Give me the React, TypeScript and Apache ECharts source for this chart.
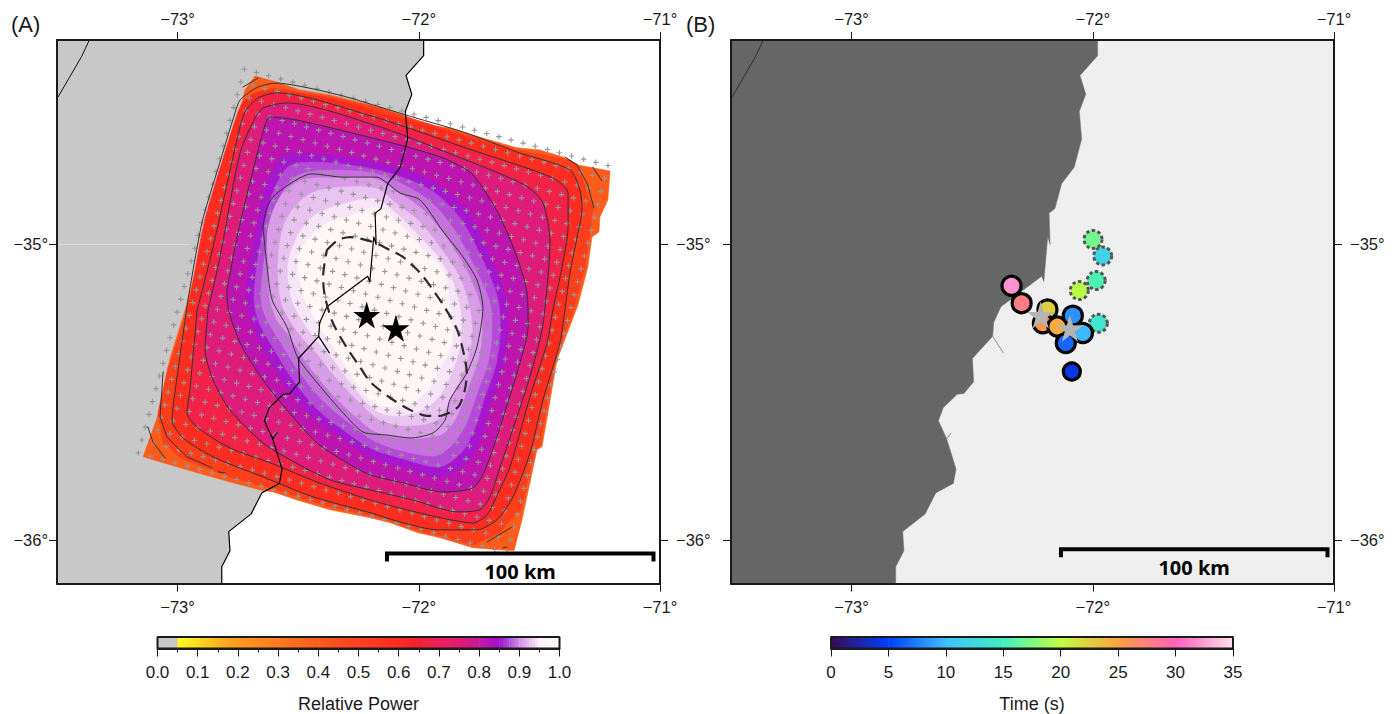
import React, { useEffect, useRef } from "react";
import * as echarts from "echarts";

type Pt = [number, number];

const FONT = "'Liberation Sans', Arial, sans-serif";
const LON_MIN = -73.5, LON_MAX = -71, LAT_MIN = -36.148, LAT_MAX = -34.308;
const lonTicks = [-73, -72, -71];
const latTicks = [-36, -35];

const coast: Pt[] = [[-71.980,-34.308],[-71.980,-34.361],[-72.053,-34.428],[-72.029,-34.492],[-72.056,-34.550],[-72.046,-34.643],[-72.077,-34.739],[-72.129,-34.794],[-72.157,-34.879],[-72.181,-34.894],[-72.177,-35.000],[-72.187,-34.975],[-72.203,-35.126],[-72.212,-35.108],[-72.381,-35.211],[-72.411,-35.265],[-72.415,-35.311],[-72.371,-35.367],[-72.415,-35.311],[-72.499,-35.386],[-72.494,-35.465],[-72.535,-35.505],[-72.562,-35.507],[-72.620,-35.553],[-72.640,-35.597],[-72.606,-35.658],[-72.588,-35.638],[-72.606,-35.658],[-72.567,-35.760],[-72.578,-35.809],[-72.651,-35.841],[-72.695,-35.912],[-72.788,-35.972],[-72.783,-36.037],[-72.817,-36.091],[-72.817,-36.148]];
const landCorners: Pt[] = [[LON_MIN, LAT_MIN],[LON_MIN, LAT_MAX]];
const inlandLine: Pt[] = [[-73.366,-34.308],[-73.398,-34.364],[-73.495,-34.500]];

// Filled power bands, outermost first
const band0: Pt[] = [[-72.721,-34.477],[-72.679,-34.430],[-72.588,-34.450],[-72.493,-34.477],[-72.368,-34.494],[-72.231,-34.521],[-72.161,-34.535],[-72.066,-34.562],[-71.966,-34.596],[-71.871,-34.606],[-71.734,-34.640],[-71.593,-34.673],[-71.498,-34.680],[-71.402,-34.704],[-71.340,-34.731],[-71.207,-34.751],[-71.216,-34.849],[-71.249,-34.907],[-71.253,-34.958],[-71.282,-34.975],[-71.299,-35.076],[-71.340,-35.205],[-71.427,-35.391],[-71.489,-35.685],[-71.510,-35.695],[-71.572,-35.932],[-71.605,-36.037],[-71.775,-36.027],[-71.912,-35.993],[-72.003,-35.976],[-72.119,-35.942],[-72.202,-35.925],[-72.368,-35.898],[-72.505,-35.865],[-72.604,-35.838],[-72.658,-35.831],[-72.783,-35.804],[-72.919,-35.773],[-73.060,-35.739],[-73.143,-35.719],[-73.085,-35.587],[-73.031,-35.384],[-72.969,-35.222],[-72.899,-35.008],[-72.874,-34.917],[-72.816,-34.748],[-72.774,-34.613],[-72.754,-34.589]];
const band1: Pt[] = [[-72.750,-34.569],[-72.700,-34.494],[-72.604,-34.470],[-72.505,-34.484],[-72.368,-34.501],[-72.161,-34.541],[-71.871,-34.613],[-71.593,-34.680],[-71.373,-34.714],[-71.340,-34.731],[-71.303,-34.826],[-71.278,-34.873],[-71.290,-34.961],[-71.311,-35.076],[-71.352,-35.205],[-71.435,-35.391],[-71.498,-35.685],[-71.518,-35.695],[-71.580,-35.905],[-71.609,-35.922],[-71.663,-35.976],[-71.775,-36.017],[-71.912,-35.986],[-72.003,-35.969],[-72.119,-35.935],[-72.202,-35.918],[-72.368,-35.888],[-72.505,-35.854],[-72.604,-35.827],[-72.783,-35.787],[-72.990,-35.722],[-73.060,-35.672],[-73.081,-35.570],[-73.039,-35.414],[-73.023,-35.384],[-72.961,-35.222],[-72.890,-35.008],[-72.866,-34.917],[-72.808,-34.748],[-72.766,-34.613]];
const band2: Pt[] = [[-72.949,-35.188],[-72.890,-34.927],[-72.820,-34.731],[-72.754,-34.562],[-72.729,-34.518],[-72.666,-34.484],[-72.588,-34.481],[-72.459,-34.494],[-72.298,-34.521],[-72.161,-34.555],[-72.024,-34.585],[-71.817,-34.633],[-71.593,-34.690],[-71.373,-34.755],[-71.332,-34.816],[-71.323,-34.883],[-71.340,-34.961],[-71.373,-35.096],[-71.394,-35.222],[-71.415,-35.333],[-71.485,-35.526],[-71.539,-35.706],[-71.609,-35.854],[-71.676,-35.932],[-71.759,-35.966],[-71.924,-35.966],[-72.066,-35.942],[-72.202,-35.908],[-72.439,-35.854],[-72.646,-35.787],[-72.853,-35.719],[-72.978,-35.655],[-73.023,-35.594],[-73.002,-35.448]];
const band7: Pt[] = [[-72.712,-35.188],[-72.700,-35.069],[-72.666,-34.917],[-72.625,-34.782],[-72.555,-34.697],[-72.368,-34.697],[-72.161,-34.724],[-71.995,-34.765],[-71.891,-34.816],[-71.788,-34.900],[-71.697,-35.052],[-71.638,-35.188],[-71.634,-35.299],[-71.651,-35.414],[-71.697,-35.526],[-71.734,-35.638],[-71.788,-35.729],[-71.900,-35.787],[-72.066,-35.753],[-72.202,-35.719],[-72.298,-35.668],[-72.439,-35.584],[-72.547,-35.482],[-72.617,-35.391],[-72.687,-35.279]];
const band8: Pt[] = [[-72.683,-35.188],[-72.671,-35.069],[-72.638,-34.924],[-72.596,-34.806],[-72.530,-34.731],[-72.368,-34.724],[-72.169,-34.748],[-72.016,-34.789],[-71.912,-34.839],[-71.817,-34.924],[-71.726,-35.069],[-71.671,-35.188],[-71.663,-35.299],[-71.680,-35.408],[-71.726,-35.516],[-71.767,-35.621],[-71.821,-35.702],[-71.912,-35.753],[-72.066,-35.726],[-72.194,-35.692],[-72.285,-35.645],[-72.418,-35.560],[-72.522,-35.459],[-72.592,-35.367],[-72.662,-35.266]];
const band9: Pt[] = [[-72.654,-35.188],[-72.642,-35.059],[-72.613,-34.934],[-72.567,-34.826],[-72.501,-34.765],[-72.360,-34.748],[-72.177,-34.761],[-72.036,-34.809],[-71.937,-34.866],[-71.846,-34.958],[-71.763,-35.086],[-71.705,-35.198],[-71.697,-35.299],[-71.713,-35.401],[-71.759,-35.506],[-71.804,-35.608],[-71.862,-35.679],[-71.933,-35.716],[-72.066,-35.699],[-72.186,-35.665],[-72.273,-35.614],[-72.393,-35.533],[-72.497,-35.431],[-72.567,-35.340],[-72.633,-35.249]];
const band10: Pt[] = [[-72.617,-35.188],[-72.625,-35.059],[-72.625,-34.944],[-72.575,-34.839],[-72.484,-34.782],[-72.327,-34.775],[-72.182,-34.778],[-72.066,-34.833],[-71.974,-34.890],[-71.879,-34.985],[-71.796,-35.096],[-71.742,-35.215],[-71.738,-35.306],[-71.754,-35.391],[-71.796,-35.486],[-71.850,-35.594],[-71.912,-35.645],[-72.066,-35.655],[-72.177,-35.635],[-72.256,-35.587],[-72.360,-35.506],[-72.459,-35.408],[-72.534,-35.313],[-72.588,-35.256]];
const band11: Pt[] = [[-72.567,-35.205],[-72.584,-35.069],[-72.563,-34.944],[-72.501,-34.860],[-72.410,-34.816],[-72.182,-34.809],[-72.086,-34.866],[-71.995,-34.924],[-71.904,-35.019],[-71.829,-35.113],[-71.788,-35.222],[-71.779,-35.306],[-71.804,-35.408],[-71.862,-35.509],[-71.924,-35.594],[-72.057,-35.614],[-72.161,-35.594],[-72.244,-35.536],[-72.335,-35.459],[-72.418,-35.374],[-72.493,-35.306]];
const band12: Pt[] = [[-72.526,-35.188],[-72.542,-35.069],[-72.501,-34.968],[-72.430,-34.900],[-72.327,-34.866],[-72.182,-34.846],[-72.086,-34.900],[-72.003,-34.968],[-71.912,-35.052],[-71.854,-35.137],[-71.825,-35.239],[-71.829,-35.340],[-71.862,-35.431],[-71.920,-35.519],[-72.003,-35.567],[-72.098,-35.580],[-72.182,-35.560],[-72.277,-35.475],[-72.360,-35.384],[-72.443,-35.306]];
const band13: Pt[] = [[-72.501,-35.042],[-72.451,-34.975],[-72.381,-34.927],[-72.298,-34.907],[-72.173,-34.876],[-72.066,-34.941],[-71.995,-35.008],[-71.900,-35.086],[-71.871,-35.215],[-71.862,-35.333],[-71.900,-35.401],[-71.954,-35.482],[-72.024,-35.536],[-72.119,-35.550],[-72.202,-35.526],[-72.285,-35.435],[-72.368,-35.333],[-72.472,-35.188]];

// Contour lines
const contour1: Pt[] = [[-72.795,-35.154],[-72.750,-34.961],[-72.646,-34.620],[-72.617,-34.569],[-72.505,-34.579],[-72.161,-34.646],[-72.049,-34.670],[-71.900,-34.707],[-71.788,-34.755],[-71.734,-34.809],[-71.663,-34.907],[-71.593,-35.043],[-71.551,-35.164],[-71.547,-35.279],[-71.593,-35.435],[-71.663,-35.618],[-71.725,-35.763],[-71.775,-35.824],[-71.900,-35.838],[-72.066,-35.807],[-72.202,-35.780],[-72.298,-35.739],[-72.422,-35.672],[-72.547,-35.560],[-72.646,-35.459],[-72.741,-35.333],[-72.795,-35.188],[-72.795,-35.154]];
const contour2: Pt[] = [[-72.874,-35.222],[-72.824,-35.042],[-72.741,-34.690],[-72.679,-34.572],[-72.646,-34.538],[-72.547,-34.521],[-72.161,-34.602],[-71.858,-34.697],[-71.560,-34.799],[-71.485,-34.860],[-71.456,-34.995],[-71.468,-35.144],[-71.489,-35.289],[-71.539,-35.448],[-71.593,-35.584],[-71.663,-35.753],[-71.705,-35.854],[-71.746,-35.898],[-71.841,-35.905],[-72.024,-35.865],[-72.202,-35.831],[-72.368,-35.797],[-72.534,-35.729],[-72.646,-35.672],[-72.783,-35.560],[-72.853,-35.459],[-72.886,-35.357],[-72.874,-35.222]];
const contour3: Pt[] = [[-72.919,-35.222],[-72.853,-35.008],[-72.754,-34.646],[-72.721,-34.552],[-72.666,-34.504],[-72.588,-34.487],[-72.182,-34.569],[-71.817,-34.670],[-71.444,-34.775],[-71.381,-34.826],[-71.381,-34.941],[-71.406,-35.076],[-71.444,-35.222],[-71.468,-35.333],[-71.539,-35.516],[-71.622,-35.753],[-71.671,-35.841],[-71.717,-35.915],[-71.775,-35.943],[-71.912,-35.925],[-72.066,-35.895],[-72.202,-35.865],[-72.422,-35.804],[-72.617,-35.739],[-72.783,-35.689],[-72.915,-35.621],[-72.961,-35.570],[-72.949,-35.492],[-72.919,-35.222]];
const contour4: Pt[] = [[-72.957,-35.188],[-72.899,-34.927],[-72.828,-34.731],[-72.762,-34.555],[-72.741,-34.511],[-72.666,-34.467],[-72.588,-34.454],[-72.459,-34.470],[-72.298,-34.501],[-72.161,-34.535],[-72.024,-34.569],[-71.817,-34.619],[-71.593,-34.687],[-71.373,-34.748],[-71.332,-34.816],[-71.323,-34.883],[-71.340,-34.961],[-71.373,-35.096],[-71.394,-35.222],[-71.415,-35.333],[-71.485,-35.526],[-71.539,-35.706],[-71.609,-35.854],[-71.676,-35.932],[-71.759,-35.966],[-71.924,-35.966],[-72.066,-35.942],[-72.202,-35.908],[-72.439,-35.854],[-72.646,-35.787],[-72.853,-35.719],[-72.978,-35.655],[-73.023,-35.594],[-73.002,-35.448],[-72.957,-35.188]];
const innerContour: Pt[] = [[-72.646,-34.941],[-72.629,-34.873],[-72.588,-34.826],[-72.443,-34.761],[-72.314,-34.772],[-72.173,-34.772],[-72.132,-34.792],[-72.078,-34.826],[-71.995,-34.849],[-71.904,-34.951],[-71.817,-35.042],[-71.759,-35.120],[-71.734,-35.215],[-71.759,-35.347],[-71.801,-35.435],[-71.871,-35.526],[-71.891,-35.594],[-71.941,-35.638],[-72.036,-35.655],[-72.132,-35.645],[-72.231,-35.635],[-72.314,-35.570],[-72.397,-35.492],[-72.501,-35.384],[-72.547,-35.279],[-72.608,-35.188],[-72.629,-35.076],[-72.646,-34.941]];
const fragments: Pt[][] = [
  [[-73.060,-35.431],[-73.073,-35.584],[-73.044,-35.652],[-72.961,-35.719],[-72.857,-35.756]],
  [[-72.832,-35.770],[-72.803,-35.773]],
  [[-73.123,-35.618],[-73.102,-35.669],[-73.052,-35.723]],
  [[-72.729,-34.467],[-72.666,-34.437]],
  [[-71.278,-34.738],[-71.241,-34.785]],
  [[-71.394,-34.704],[-71.344,-34.731],[-71.299,-34.799],[-71.274,-34.877]],
  [[-71.613,-35.956],[-71.717,-36.007]],
  [[-71.634,-36.024],[-71.651,-36.027]],
];
const halfPowerEllipse: Pt[] = [[-72.381,-35.019],[-72.335,-34.985],[-72.285,-34.975],[-72.190,-34.992],[-72.119,-35.019],[-72.066,-35.042],[-71.995,-35.096],[-71.941,-35.154],[-71.891,-35.215],[-71.841,-35.289],[-71.817,-35.357],[-71.801,-35.435],[-71.809,-35.492],[-71.837,-35.550],[-71.912,-35.580],[-71.966,-35.580],[-72.036,-35.560],[-72.119,-35.519],[-72.202,-35.465],[-72.244,-35.415],[-72.298,-35.350],[-72.356,-35.266],[-72.389,-35.178],[-72.397,-35.110],[-72.381,-35.019]];

// The four corners of the regular beam-forming grid, and its node count per side
const gridNW: Pt = [-72.7235, -34.407];
const gridNE: Pt = [-71.2156, -34.733];
const gridSW: Pt = [-73.163, -35.705];
const gridSE: Pt = [-71.634, -36.044];
const gridNodesPerSide = 31;

const epicenters: Pt[] = [[-72.216,-35.239],[-72.095,-35.284]];

// [lon, lat, time in s]
const solidEvents: number[][] = [[-72.295,-35.199,27.7],[-72.337,-35.140,32],[-72.188,-35.220,22.5],[-72.207,-35.267,25.5],[-72.147,-35.278,24.5],[-72.041,-35.300,9.7],[-72.083,-35.241,8.2],[-72.112,-35.334,6.5]];
const lastEvent: number[][] = [[-72.087,-35.430,4.2]];
const dashedEvents: number[][] = [[-71.959,-35.039,12],[-71.999,-34.983,17],[-71.986,-35.122,15.5],[-72.056,-35.156,19.7],[-71.977,-35.267,14]];

const powerBreaks = [0,0.05,0.05,0.1,0.15,0.2,0.3,0.4,0.5,0.6,0.65,0.7,0.75,0.8,0.85,0.875,0.9,0.925,0.95,1];
const powerColors = ["#c8c8c8","#c8c8c8","#ffff20","#ffda20","#ffb420","#ff9a20","#ff7a20","#ff5a20","#ff4020","#ff2a20","#f42030","#e82060","#e01c70","#c818a0","#a010d0","#b050d8","#d090e8","#e8c0f0","#fdf0f8","#fff8f8"];
const timeBreaks = [0,5,10,15,20,25,30,35];
const timeColors = ["#3a0a50","#0040ff","#40c0ff","#40f0c0","#c0ff40","#ffa040","#ff60c0","#ffe0e8"];

const CROSS = "path://M2.4,0h1.2v2.4h2.4v1.2h-2.4v2.4h-1.2v-2.4h-2.4v-1.2h2.4z";
const STAR = "path://M50,0L61,35L98,35L68,57L79,91L50,70L21,91L32,57L2,35L39,35z";
const SMOOTH = 0.25;

function latticeNodes(): Pt[] {
  const out: Pt[] = [];
  const n = gridNodesPerSide - 1;
  for (let r = 0; r <= n; r++) {
    const v = r / n;
    const a: Pt = [gridNW[0] + (gridSW[0] - gridNW[0]) * v, gridNW[1] + (gridSW[1] - gridNW[1]) * v];
    const b: Pt = [gridNE[0] + (gridSE[0] - gridNE[0]) * v, gridNE[1] + (gridSE[1] - gridNE[1]) * v];
    for (let c = 0; c <= n; c++) {
      const u = c / n;
      out.push([a[0] + (b[0] - a[0]) * u, a[1] + (b[1] - a[1]) * u]);
    }
  }
  return out;
}

function poly(pts: Pt[], fill: string, panel: number, smooth = 0, stroke?: string) {
  return {
    type: "custom", coordinateSystem: "cartesian2d", xAxisIndex: panel * 2, yAxisIndex: panel * 2,
    silent: true, clip: true, data: pts,
    renderItem: (p: any, api: any) => p.dataIndex !== 0 ? null : ({
      type: "polygon",
      shape: { points: pts.map((q) => api.coord(q)), smooth },
      style: { fill, stroke: stroke || fill, lineWidth: 0.5 },
    }),
  };
}
function line(pts: Pt[], panel: number, color: string, width: number, extra: any = {}, smooth: number = 0) {
  return {
    type: "line", xAxisIndex: panel * 2, yAxisIndex: panel * 2, data: pts, showSymbol: false, symbol: "none",
    silent: true, animation: false, smooth, lineStyle: { color, width, cap: "round", join: "round", ...extra }, clip: true,
  };
}
function axesFor(panel: number) {
  const deg = (v: number) => "\u2212" + Math.abs(v) + "\u00b0";
  const x = (position: string, margin: number) => ({
    type: "value", gridIndex: panel, position, min: LON_MIN, max: LON_MAX, z: 20,
    axisLine: { onZero: false, lineStyle: { color: "#1a1a1a", width: 2 } },
    axisTick: { customValues: lonTicks, length: 8, lineStyle: { color: "#1a1a1a", width: 1 } },
    axisLabel: { customValues: lonTicks, formatter: deg, fontFamily: FONT, fontSize: 16.5, color: "#1a1a1a", margin },
    splitLine: { show: false },
  });
  // Panel B has no left-hand labels of its own: the gap between the maps holds one label per latitude
  const y = (position: string, margin: number, show: boolean) => ({
    type: "value", gridIndex: panel, position, min: LAT_MIN, max: LAT_MAX, z: 20,
    axisLine: { onZero: false, lineStyle: { color: "#1a1a1a", width: 2 } },
    axisTick: { customValues: latTicks, length: 8, lineStyle: { color: "#1a1a1a", width: 1 } },
    axisLabel: { show, customValues: latTicks, formatter: deg, fontFamily: FONT, fontSize: 16.5, color: "#1a1a1a", margin },
    splitLine: { show: false },
  });
  return { x: [x("bottom", 15), x("top", 13)], y: [y("left", 9, panel === 0), y("right", 16, true)] };
}
function colorbarAxis(grid: number, max: number, interval: number, name: string, digits: number, minor: boolean) {
  return {
    type: "value", gridIndex: grid, position: "bottom", min: 0, max, interval, name,
    nameLocation: "middle", nameGap: 46, z: 20,
    nameTextStyle: { fontFamily: FONT, fontSize: 18, color: "#1a1a1a" },
    axisLine: { onZero: false, lineStyle: { color: "#1a1a1a", width: 2 } },
    axisTick: { length: 8, lineStyle: { color: "#1a1a1a", width: 1 } },
    minorTick: { show: minor, splitNumber: 2, length: 4, lineStyle: { color: "#1a1a1a", width: 1 } },
    axisLabel: { formatter: (v: number) => v.toFixed(digits), fontFamily: FONT, fontSize: 17, color: "#1a1a1a", margin: 15, showMinLabel: true, showMaxLabel: true },
    splitLine: { show: false },
  };
}
function colorbar(axisIndex: number, breaks: number[], colors: string[], max: number) {
  const segs = breaks.slice(0, -1).map((b, i) => [b, breaks[i + 1], i]);
  return [
    {
      type: "custom", coordinateSystem: "cartesian2d", xAxisIndex: axisIndex, yAxisIndex: axisIndex, silent: true, data: segs,
      encode: { x: [0, 1] },
      renderItem: (_: any, api: any) => {
        const i = api.value(2);
        const a = api.coord([api.value(0), 0]);
        const b = api.coord([api.value(1), 1]);
        return {
          type: "rect", shape: { x: a[0], y: b[1], width: Math.max(b[0] - a[0] + 0.4, 0), height: a[1] - b[1] },
          style: { fill: new (echarts as any).graphic.LinearGradient(0, 0, 1, 0, [{ offset: 0, color: colors[i] }, { offset: 1, color: colors[i + 1] }]) },
        };
      },
    },
    {
      type: "line", xAxisIndex: axisIndex, yAxisIndex: axisIndex, silent: true, showSymbol: false, symbol: "none", clip: false,
      data: [[0, 0], [max, 0], [max, 1], [0, 1], [0, 0]],
      lineStyle: { color: "#1a1a1a", width: 2 }, z: 5,
    },
  ];
}
function scaleBar(panel: number, barLat: number, endLat: number, textLat: number) {
  return [
    line([[-72.132, endLat], [-72.132, barLat], [-71.027, barLat], [-71.027, endLat]], panel, "#000", 4, { cap: "butt", join: "miter" }),
    {
      type: "scatter", xAxisIndex: panel * 2, yAxisIndex: panel * 2, symbolSize: 1, silent: true, data: [[-71.580, textLat]],
      itemStyle: { opacity: 0 }, z: 12,
      label: { show: true, position: "inside", formatter: "100 km", fontFamily: "'Noto Sans', sans-serif", fontWeight: 700, fontSize: 20, color: "#000", opacity: 1 },
    },
  ];
}

const App = () => {
  const ref = useRef<HTMLDivElement>(null);
  useEffect(() => {
    document.body.style.margin = "0";
    const chart = echarts.init(ref.current!, undefined, { renderer: "svg" });
    const a = axesFor(0), b = axesFor(1);
    const land: Pt[] = [...coast, ...landCorners];
    const seriesA: any[] = [
      poly(land, "#c8c8c8", 0),
      line([[LON_MIN, -35], [-72.95, -35]], 0, "#dcdcdc", 1),
      poly(band0, "#ff5c1c", 0),
      poly(band1, "#ff3e1c", 0),
      poly(band2, "#ff2c20", 0, SMOOTH),
      poly(contour3, "#f22248", 0, SMOOTH),
      poly(contour2, "#de1c7c", 0, SMOOTH),
      poly(contour1, "#bd14b0", 0, SMOOTH),
      poly(band7, "#a616cf", 0, 0.3),
      poly(band8, "#b44ad6", 0, 0.3),
      poly(band9, "#c572de", 0, 0.3),
      poly(band10, "#d99ce6", 0, 0.3),
      poly(band11, "#e9c4f0", 0, 0.3),
      poly(band12, "#f7e6f7", 0, 0.3),
      poly(band13, "#fff6f5", 0, 0.3),
      {
        type: "scatter", xAxisIndex: 0, yAxisIndex: 0, symbol: CROSS, symbolSize: 5.5, silent: true,
        data: latticeNodes(), itemStyle: { color: "#969696", opacity: 1 },
      },
      line(contour1, 0, "#333", 1, {}, SMOOTH),
      line(contour2, 0, "#333", 1, {}, SMOOTH),
      line(contour3, 0, "#333", 1, {}, SMOOTH),
      line(contour4, 0, "#333", 1, {}, SMOOTH),
      line(innerContour, 0, "#333", 1, {}, SMOOTH),
      ...fragments.map((f) => line(f, 0, "#333", 1)),
      line(inlandLine, 0, "#111", 1),
      line(coast, 0, "#000", 1.2),
      line(halfPowerEllipse, 0, "#2a2a2a", 2.2, { type: [12, 7], cap: "butt" }, SMOOTH),
      {
        type: "scatter", xAxisIndex: 0, yAxisIndex: 0, symbol: STAR, symbolSize: 27, silent: true, z: 10,
        data: epicenters, itemStyle: { color: "#000", opacity: 1 },
      },
      ...scaleBar(0, -36.046, -36.073, -36.108),
    ];
    const seriesB: any[] = [
      poly(land, "#666666", 1, 0, "#777777"),
      line(inlandLine, 1, "#333", 1),
      {
        type: "scatter", xAxisIndex: 2, yAxisIndex: 2, symbolSize: 18, silent: true, data: dashedEvents,
        itemStyle: { borderColor: "#555", borderWidth: 3, borderType: [3.4, 2.4], opacity: 1 },
      },
      {
        type: "scatter", xAxisIndex: 2, yAxisIndex: 2, symbolSize: 19, silent: true, data: solidEvents,
        itemStyle: { borderColor: "#000", borderWidth: 3.2, opacity: 1 },
      },
      {
        type: "scatter", xAxisIndex: 2, yAxisIndex: 2, symbolSize: 17, silent: true, data: lastEvent,
        itemStyle: { borderColor: "#000", borderWidth: 3.2, opacity: 1 },
      },
      {
        type: "scatter", xAxisIndex: 2, yAxisIndex: 2, symbol: STAR, symbolSize: 27, silent: true, z: 10,
        data: epicenters, itemStyle: { color: "#b4b4b4", opacity: 1 },
      },
      ...scaleBar(1, -36.032, -36.059, -36.095),
    ];
    const eventSeries = [seriesA.length + 2, seriesA.length + 3, seriesA.length + 4];
    chart.setOption({
      animation: false,
      title: [
        { text: "(A)", left: 6, top: 8, textStyle: { fontFamily: FONT, fontWeight: "normal", fontSize: 22, color: "#1a1a1a" } },
        { text: "(B)", left: 681, top: 8, textStyle: { fontFamily: FONT, fontWeight: "normal", fontSize: 22, color: "#1a1a1a" } },
      ],
      grid: [
        { left: 57, top: 40, width: 603, height: 543.6, show: true, backgroundColor: "#ffffff", borderWidth: 0 },
        { left: 731, top: 40, width: 603, height: 543.6, show: true, backgroundColor: "#efefef", borderWidth: 0 },
        { left: 157.5, top: 637, width: 402, height: 11.5 },
        { left: 831, top: 637, width: 402, height: 11.5 },
      ],
      xAxis: [...a.x, ...b.x, colorbarAxis(2, 1, 0.1, "Relative Power", 1, true), colorbarAxis(3, 35, 5, "Time (s)", 0, false)],
      yAxis: [...a.y, ...b.y,
        { type: "value", gridIndex: 2, min: 0, max: 1, show: false },
        { type: "value", gridIndex: 3, min: 0, max: 1, show: false }],
      visualMap: [{ show: false, type: "continuous", min: 0, max: 35, dimension: 2, seriesIndex: eventSeries, inRange: { color: timeColors } }],
      series: [...seriesA, ...seriesB,
        ...colorbar(4, powerBreaks, powerColors, 1),
        ...colorbar(5, timeBreaks, timeColors, 35)],
    });
    return () => chart.dispose();
  }, []);
  return <div ref={ref} style={{ position: "absolute", left: 0, top: 0, width: 1400, height: 714, background: "#fff" }} />;
};

export default App;
